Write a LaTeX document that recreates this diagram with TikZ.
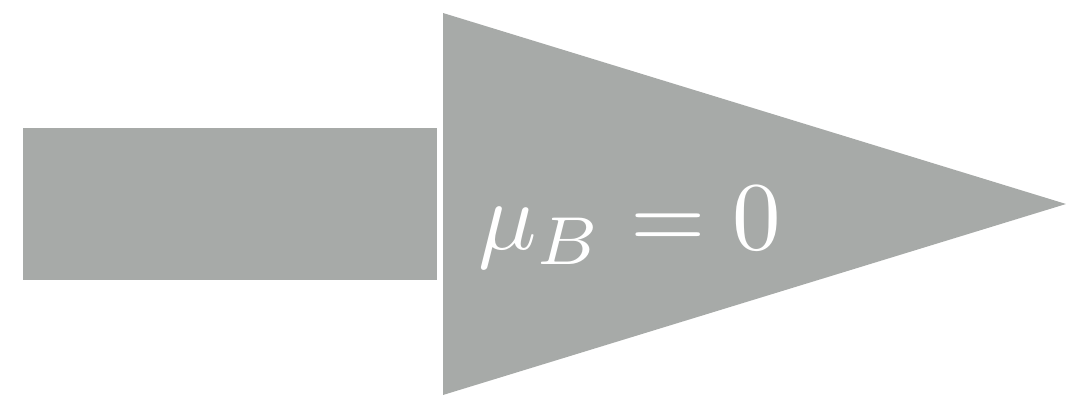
\documentclass[tikz,border=0pt]{standalone}
\usepackage{tikz}

\begin{document}
\begin{tikzpicture}[x=0.025cm, y=0.025cm]

% Colori
\definecolor{colArrow}{HTML}{A7AAA8}

% Riquadro
\useasboundingbox (0,0) rectangle (1066,395);

% Corpo della freccia
\fill[colArrow] (23,115) rectangle (437,267);

% Punta della freccia
\fill[colArrow] (443,0) -- (443,382) -- (1066,191) -- cycle;

% Etichetta
\node[anchor=base west, inner sep=0pt, text=white]
  (muB) at (478,145) {\scalebox{6.9}{$\mu_B = 0$}};

\end{tikzpicture}
\end{document}
